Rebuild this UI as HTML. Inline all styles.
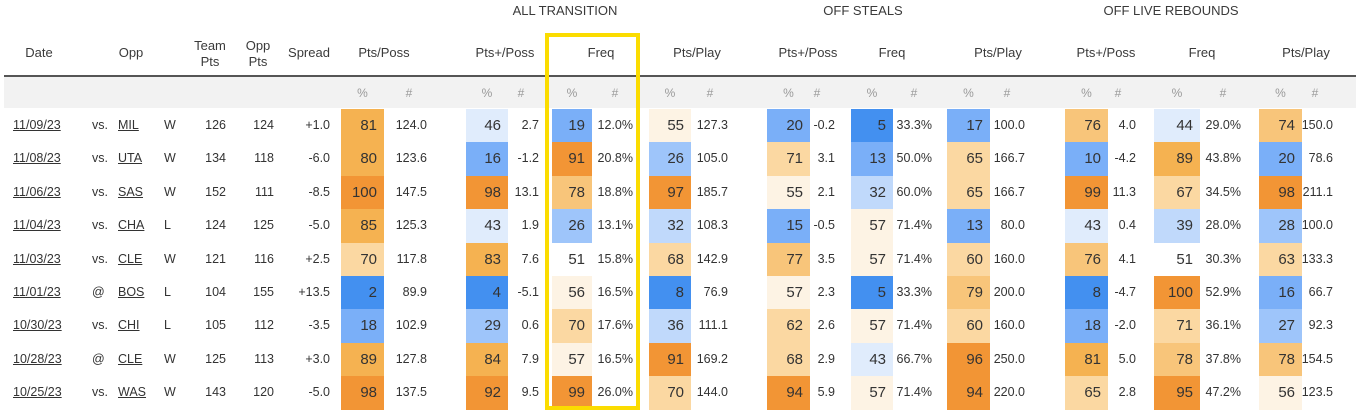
<!DOCTYPE html>
<html><head><meta charset="utf-8">
<style>
body{margin:0;width:1356px;height:413px;background:#fff;font-family:"Liberation Sans",sans-serif;color:#333;position:relative;overflow:hidden}
.a{position:absolute;white-space:nowrap}
.h{font-size:13px;color:#3a3a3a;text-align:center;line-height:16px}
.g{font-size:13px;color:#3a3a3a;text-align:center}
.s{font-size:12px;color:#999;text-align:center}
.t{font-size:12.5px;line-height:33px}
.c{font-size:15px;line-height:33px;text-align:right;padding-right:7px;box-sizing:border-box;color:#333}
u{text-decoration:underline}
</style></head><body>
<div class="a" style="left:4px;top:77px;width:1352px;height:31px;background:#f2f2f2"></div>
<div class="a" style="left:4px;top:75px;width:1352px;height:2px;background:#555"></div>
<div class="a g" style="left:465px;top:3px;width:200px">ALL TRANSITION</div>
<div class="a g" style="left:763px;top:3px;width:200px">OFF STEALS</div>
<div class="a g" style="left:1071px;top:3px;width:200px">OFF LIVE REBOUNDS</div>
<div id="root"></div>
<div class="a" style="left:545px;top:33px;width:87px;height:369px;border:4px solid #fbdc00"></div>
<script>
const dates=["11/09/23","11/08/23","11/06/23","11/04/23","11/03/23","11/01/23","10/30/23","10/28/23","10/25/23"];
const venues=["vs.","vs.","vs.","vs.","vs.","@","vs.","@","vs."];
const opps=["MIL","UTA","SAS","CHA","CLE","BOS","CHI","CLE","WAS"];
const results=["W","W","W","L","W","L","L","W","W"];
const teamPts=[126,134,152,124,121,104,105,125,143];
const oppPts=[124,118,111,125,116,155,112,113,120];
const spreads=["+1.0","-6.0","-8.5","-5.0","+2.5","+13.5","-3.5","+3.0","-5.0"];
const ptsPossPct=[81,80,100,85,70,2,18,89,98];
const ptsPossVal=["124.0","123.6","147.5","125.3","117.8","89.9","102.9","127.8","137.5"];
const trPlusPct=[46,16,98,43,83,4,29,84,92];
const trPlusVal=["2.7","-1.2","13.1","1.9","7.6","-5.1","0.6","7.9","9.5"];
const trFreqPct=[19,91,78,26,51,56,70,57,99];
const trFreqVal=["12.0%","20.8%","18.8%","13.1%","15.8%","16.5%","17.6%","16.5%","26.0%"];
const trPlayPct=[55,26,97,32,68,8,36,91,70];
const trPlayVal=["127.3","105.0","185.7","108.3","142.9","76.9","111.1","169.2","144.0"];
const stPlusPct=[20,71,55,15,77,57,62,68,94];
const stPlusVal=["-0.2","3.1","2.1","-0.5","3.5","2.3","2.6","2.9","5.9"];
const stFreqPct=[5,13,32,57,57,5,57,43,57];
const stFreqVal=["33.3%","50.0%","60.0%","71.4%","71.4%","33.3%","71.4%","66.7%","71.4%"];
const stPlayPct=[17,65,65,13,60,79,60,96,94];
const stPlayVal=["100.0","166.7","166.7","80.0","160.0","200.0","160.0","250.0","220.0"];
const lrPlusPct=[76,10,99,43,76,8,18,81,65];
const lrPlusVal=["4.0","-4.2","11.3","0.4","4.1","-4.7","-2.0","5.0","2.8"];
const lrFreqPct=[44,89,67,39,51,100,71,78,95];
const lrFreqVal=["29.0%","43.8%","34.5%","28.0%","30.3%","52.9%","36.1%","37.8%","47.2%"];
const lrPlayPct=[74,20,98,28,63,16,27,78,56];
const lrPlayVal=["150.0","78.6","211.1","100.0","133.3","66.7","92.3","154.5","123.5"];

const cols=[
 {name:"pts-poss",title:"Pts/Poss",x:341,w:43,r:427,p:ptsPossPct,v:ptsPossVal},
 {name:"trans-pts-plus-poss",title:"Pts+/Poss",x:466,w:42,r:539,p:trPlusPct,v:trPlusVal},
 {name:"trans-freq",title:"Freq",x:552,w:40,r:633,p:trFreqPct,v:trFreqVal},
 {name:"trans-pts-play",title:"Pts/Play",x:649,w:42,r:728,p:trPlayPct,v:trPlayVal},
 {name:"steals-pts-plus-poss",title:"Pts+/Poss",x:767,w:43,r:835,p:stPlusPct,v:stPlusVal},
 {name:"steals-freq",title:"Freq",x:851,w:42,r:932,p:stFreqPct,v:stFreqVal},
 {name:"steals-pts-play",title:"Pts/Play",x:947,w:43,r:1025,p:stPlayPct,v:stPlayVal},
 {name:"rebounds-pts-plus-poss",title:"Pts+/Poss",x:1065,w:43,r:1136,p:lrPlusPct,v:lrPlusVal},
 {name:"rebounds-freq",title:"Freq",x:1154,w:46,r:1241,p:lrFreqPct,v:lrFreqVal},
 {name:"rebounds-pts-play",title:"Pts/Play",x:1259,w:43,r:1333,p:lrPlayPct,v:lrPlayVal}
];
const titleCenters=[384,505,601,697,808,892,998,1106,1202,1306];
function color(p){
 if(p>=90)return"#f29535";if(p>=80)return"#f5b251";if(p>=72)return"#f8c57a";
 if(p>=60)return"#fbd8a2";if(p>=53)return"#fdf3e4";if(p>=47)return"#ffffff";
 if(p>=40)return"#e0ecfc";if(p>=30)return"#c0d9fb";if(p>=21)return"#9ec5fa";
 if(p>=10)return"#7aaff8";return"#4390f0";
}
const root=document.getElementById('root');
function add(cls,style,html){const d=document.createElement('div');d.className='a '+cls;d.style.cssText=style;d.innerHTML=html;root.appendChild(d);return d;}
const top0=109,rh=33.4;
let e;
e=add('h','left:9px;top:40px;width:60px;line-height:26px','Date');


e=add('h','left:101px;top:40px;width:60px;line-height:26px','Opp');


e=add('h','left:185px;top:38px;width:50px','Team<br>Pts');


e=add('h','left:233px;top:38px;width:50px','Opp<br>Pts');


e=add('h','left:279px;top:40px;width:60px;line-height:26px','Spread');


cols.forEach((c,i)=>{
 e=add('h','left:'+(titleCenters[i]-50)+'px;top:40px;width:100px;line-height:26px',c.title);
 
 
 e=add('s','left:'+c.x+'px;top:86px;width:'+c.w+'px','%');
 
 
 e=add('s','left:'+(c.r-28)+'px;top:86px;width:20px','#');
 
 
});
dates.forEach((d,r)=>{
 const y=top0+r*rh;
 e=add('t','left:13px;top:'+y+'px','<u>'+d+'</u>');
 
 
 e=add('t','left:92px;top:'+y+'px',venues[r]);
 
 
 e=add('t','left:118px;top:'+y+'px','<u>'+opps[r]+'</u>');
 
 
 e=add('t','left:164px;top:'+y+'px',results[r]);
 
 
 e=add('t','left:186px;top:'+y+'px;width:40px;text-align:right',teamPts[r]);
 
 
 e=add('t','left:234px;top:'+y+'px;width:40px;text-align:right',oppPts[r]);
 
 
 e=add('t','left:280px;top:'+y+'px;width:50px;text-align:right',spreads[r]);
 
 
 cols.forEach(c=>{
  e=add('c','left:'+c.x+'px;top:'+y+'px;width:'+c.w+'px;height:'+(rh+0.6)+'px;background:'+color(c.p[r]),c.p[r]);
  
  
  e=add('t','left:'+(c.r-60)+'px;top:'+y+'px;width:60px;text-align:right',c.v[r]);
  
  
 });
});
</script>
</body></html>
